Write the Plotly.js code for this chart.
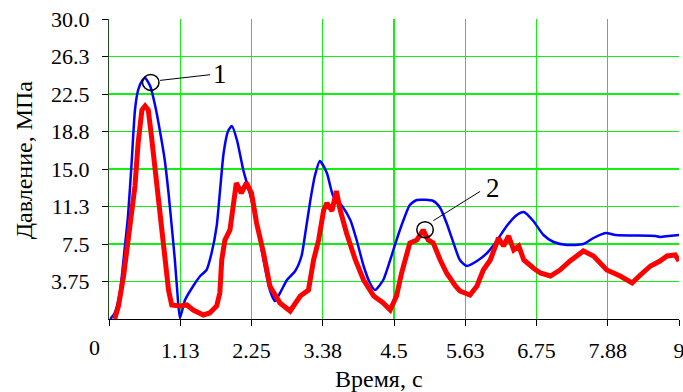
<!DOCTYPE html>
<html><head><meta charset="utf-8">
<script src="https://cdn.plot.ly/plotly-3.0.1.min.js"></script>
<style>html,body{margin:0;padding:0;background:#fff}#chart{width:683px;height:392px}</style>
</head><body><div id="chart"></div>
<script>
const blueT = [0.02,0.09,0.17,0.25,0.30,0.36,0.41,0.46,0.52,0.57,0.65,0.73,0.81,0.88,0.94,0.99,1.04,1.08,1.12,1.20,1.33,1.44,1.54,1.62,1.70,1.75,1.81,1.88,1.94,2.02,2.12,2.23,2.33,2.44,2.54,2.62,2.70,2.81,2.94,3.04,3.10,3.18,3.25,3.33,3.44,3.54,3.68,3.81,3.91,4.02,4.12,4.20,4.33,4.44,4.54,4.65,4.75,4.86,5.12,5.23,5.33,5.44,5.54,5.65,5.81,5.97,6.12,6.28,6.44,6.55,6.70,6.86,7.02,7.23,7.49,7.65,7.84,8.00,8.63,8.70,8.84,9.0];
const blueP = [0,0.6,2.6,7.2,10.3,15.9,20.9,22.9,23.8,24.1,23.3,21.3,18.6,15.9,12.6,9.3,5.9,2.6,0.1,1.9,3.3,4.3,4.9,6.6,9.3,12.6,16.6,18.8,19.3,17.9,14.9,12.4,9.6,5.9,2.9,1.8,2.6,3.9,4.8,6.3,8.6,11.9,14.3,15.8,14.6,12.3,11.3,9.9,7.9,5.3,3.6,2.9,3.9,5.9,7.9,9.9,11.4,11.9,11.8,11.1,9.6,7.6,5.9,5.3,5.8,6.6,7.8,9.3,10.4,10.7,9.8,8.4,7.7,7.4,7.5,8.1,8.6,8.4,8.3,8.2,8.3,8.4];
const redT = [0.09,0.15,0.23,0.33,0.41,0.46,0.52,0.57,0.62,0.67,0.73,0.78,0.83,0.88,0.94,0.99,1.12,1.23,1.33,1.49,1.59,1.70,1.75,1.78,1.83,1.91,1.96,2.01,2.09,2.17,2.25,2.33,2.44,2.54,2.70,2.86,3.02,3.15,3.23,3.31,3.39,3.44,3.52,3.59,3.65,3.75,3.89,4.02,4.18,4.33,4.44,4.54,4.62,4.70,4.75,4.86,4.96,5.04,5.12,5.23,5.33,5.47,5.54,5.70,5.81,5.91,6.02,6.15,6.23,6.31,6.39,6.47,6.55,6.70,6.81,6.97,7.12,7.28,7.49,7.65,7.86,8.07,8.26,8.39,8.55,8.70,8.81,8.94,9.0];
const redP = [0,1.3,4.3,9.3,13.3,17.6,20.9,21.3,20.9,18.3,14.9,11.9,8.6,5.9,2.9,1.4,1.3,1.4,0.9,0.4,0.6,1.3,2.6,5.9,7.9,8.9,11.3,13.6,12.6,13.6,12.6,9.6,6.6,3.3,1.6,0.8,2.3,2.9,5.9,7.9,10.9,11.6,10.8,12.8,10.9,8.6,5.9,3.9,2.3,1.6,0.9,2.3,4.6,6.3,7.6,7.9,8.9,7.9,7.6,5.9,4.6,3.3,2.8,2.4,3.3,4.9,5.9,8.1,7.3,8.3,6.9,7.3,5.9,5.1,4.6,4.3,4.9,5.8,6.8,6.3,4.9,4.3,3.6,4.4,5.3,5.8,6.3,6.4,5.8];
const xTickVals = [0,1.125,2.25,3.375,4.5,5.625,6.75,7.875,9];
const xTickText = ["","1.13","2.25","3.38","4.5","5.63","6.75","7.88","9"];
const yTickVals = [3.75,7.5,11.25,15,18.75,22.5,26.25,30];
const yTickText = ["3.75","7.5","11.3","15.0","18.8","22.5","26.3","30.0"];
const xTitle = "Время, с";
const yTitle = "Давление, МПа";

const FONT = 'serif';
const FS = 22;
const TFS = 24;
const data = [
  {x: blueT, y: blueP, type: 'scatter', mode: 'lines', line: {color: '#0000ff', width: 2.5, shape: 'spline', smoothing: 0.6}, hoverinfo: 'skip'},
  {x: redT, y: redP, type: 'scatter', mode: 'lines', line: {color: '#ff0000', width: 5}, hoverinfo: 'skip'}
];
const layout = {
  width: 683, height: 392,
  margin: {l: 109, r: 4, t: 19, b: 73},
  paper_bgcolor: '#fff', plot_bgcolor: '#fff',
  showlegend: false,
  font: {family: FONT, size: FS, color: '#000'},
  xaxis: {
    range: [0, 9], tickvals: xTickVals, ticktext: xTickText,
    showgrid: true, gridcolor: '#11f011', gridwidth: 1.2,
    showline: true, linecolor: '#000', linewidth: 1,
    ticks: 'outside', ticklen: 6, tickcolor: '#000',
    ticklabelstandoff: 6, ticklabeloverflow: 'allow', zeroline: false,
    tickfont: {family: FONT, size: FS, color: '#000'}
  },
  yaxis: {
    range: [0, 30], tickvals: yTickVals, ticktext: yTickText,
    showgrid: true, gridcolor: '#11f011', gridwidth: 1.2,
    showline: true, linecolor: '#1d4f1d', linewidth: 1.2,
    ticks: 'outside', ticklen: 6, tickcolor: '#000',
    ticklabelstandoff: 8, ticklabeloverflow: 'allow', zeroline: false,
    tickfont: {family: FONT, size: FS, color: '#000'}
  },
  shapes: [
    {type: 'circle', xref: 'x', yref: 'y', x0: 0.529, x1: 0.789, y0: 22.86, y1: 24.46, line: {color: '#000', width: 1.5}},
    {type: 'line', xref: 'x', yref: 'y', x0: 0.806, y0: 23.86, x1: 1.596, y1: 24.43, line: {color: '#000', width: 1}},
    {type: 'circle', xref: 'x', yref: 'y', x0: 4.86, x1: 5.12, y0: 8.13, y1: 9.73, line: {color: '#000', width: 1.5}},
    {type: 'line', xref: 'x', yref: 'y', x0: 5.12, y0: 9.83, x1: 5.86, y1: 12.76, line: {color: '#000', width: 1}}
  ],
  annotations: [
    {text: '1', xref: 'x', yref: 'y', x: 1.754, y: 24.5, showarrow: false, font: {family: FONT, size: 27, color: '#000'}},
    {text: '2', xref: 'x', yref: 'y', x: 6.07, y: 13.1, showarrow: false, font: {family: FONT, size: 27, color: '#000'}},
    {text: '0', xref: 'paper', yref: 'paper', x: -0.0246, y: -0.095, xanchor: 'center', yanchor: 'middle', showarrow: false, font: {family: FONT, size: FS, color: '#000'}},
    {text: xTitle, xref: 'paper', yref: 'paper', x: 0.4737, y: -0.2, xanchor: 'center', yanchor: 'middle', showarrow: false, font: {family: FONT, size: TFS, color: '#000'}},
    {text: yTitle, xref: 'paper', yref: 'paper', x: -0.149, y: 0.529, xanchor: 'center', yanchor: 'middle', textangle: -90, showarrow: false, font: {family: FONT, size: TFS, color: '#000'}}
  ]
};
Plotly.newPlot('chart', data, layout, {displayModeBar: false, staticPlot: true});
</script></body></html>
